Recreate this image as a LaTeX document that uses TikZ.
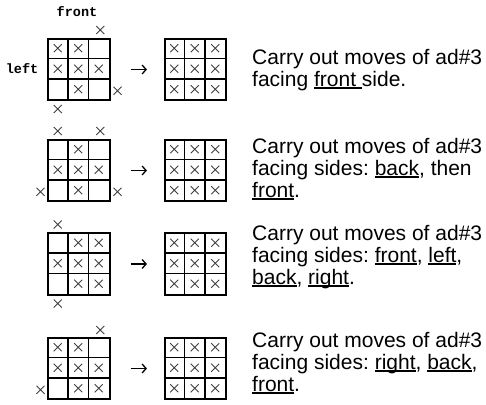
\documentclass[tikz,border=0pt]{standalone}
\usepackage{fontspec}
\setmainfont{Liberation Sans}
\newfontfamily\pixfont{Liberation Mono}
\usepackage{tikz}
\usetikzlibrary{arrows.meta,positioning,calc}
\newcommand{\sideul}[1]{\setbox0\hbox{#1}\rlap{\rule[-2.6pt]{\wd0}{1.3pt}}\box0}
\frenchspacing

\begin{document}
\begin{tikzpicture}[
  x=1pt, y=-1pt,
  board/.style={draw, line width=1.6pt, minimum size=61.5pt, inner sep=0pt},
  sidelabel/.style={font=\pixfont\bfseries\fontsize{13.5}{13.5}\selectfont, inner sep=0pt},
  note/.style={font=\fontsize{21}{22}\selectfont, align=left, anchor=base west, inner sep=0pt},
  movearrow/.style={-{Straight Barb[length=4pt,width=9pt]}, line width=1.3pt, shorten <=20pt, shorten >=17pt},
  xmark/.pic={\draw[line width=0.9pt, black!75] (-4pt,-4pt) -- (4pt,4pt) (-4pt,4pt) -- (4pt,-4pt);}
]
\useasboundingbox (0,0) rectangle (486,404);

% boards before and after
\node[board] (g1) at (79,69.5) {};
\node[board] (f1) at (195.5,69.5) {};
\node[board] (g2) at (79,170.5) {};
\node[board] (f2) at (195.5,170.5) {};
\node[board] (g3) at (79,264) {};
\node[board] (f3) at (195.5,264) {};
\node[board] (g4) at (79,368.5) {};
\node[board] (f4) at (195.5,368.5) {};

% inner grid lines
\foreach \b in {g1,f1,g2,f2,g3,f3,g4,f4}{
  \foreach \k in {1,2}{
    \draw[line width=1.6pt] ($(\b.north west)+(\k*20.5pt,0)$) -- ($(\b.south west)+(\k*20.5pt,0)$);
    \draw[line width=1.6pt] ($(\b.north west)+(0,-\k*20.5pt)$) -- ($(\b.north east)+(0,-\k*20.5pt)$);
  }
}

% marked cells (column/row)
\foreach \c/\r in {1/1,2/1,1/2,2/2,3/2,2/3}
  \pic at ($(g1.north west)+(\c*20.5pt-10.25pt,-\r*20.5pt+10.25pt)$) {xmark};
\foreach \c/\r in {2/1,1/2,2/2,3/2,2/3}
  \pic at ($(g2.north west)+(\c*20.5pt-10.25pt,-\r*20.5pt+10.25pt)$) {xmark};
\foreach \c/\r in {2/1,3/1,1/2,2/2,3/2,2/3,3/3}
  \pic at ($(g3.north west)+(\c*20.5pt-10.25pt,-\r*20.5pt+10.25pt)$) {xmark};
\foreach \c/\r in {1/1,2/1,1/2,2/2,3/2,2/3,3/3}
  \pic at ($(g4.north west)+(\c*20.5pt-10.25pt,-\r*20.5pt+10.25pt)$) {xmark};
\foreach \b in {f1,f2,f3,f4}
  \foreach \c in {1,2,3}
    \foreach \r in {1,2,3}
      \pic at ($(\b.north west)+(\c*20.5pt-10.25pt,-\r*20.5pt+10.25pt)$) {xmark};

% marks outside the boards
\pic at ($(g1.north east)+(-10.25pt,8pt)$) {xmark};
\pic at ($(g1.south east)+(7pt,10.25pt)$) {xmark};
\pic at ($(g1.south west)+(10.25pt,-8pt)$) {xmark};
\pic at ($(g2.north west)+(10.25pt,8pt)$) {xmark};
\pic at ($(g2.north east)+(-10.25pt,8pt)$) {xmark};
\pic at ($(g2.south west)+(-7pt,10.25pt)$) {xmark};
\pic at ($(g2.south east)+(7pt,10.25pt)$) {xmark};
\pic at ($(g3.north west)+(10.25pt,8pt)$) {xmark};
\pic at ($(g3.south west)+(10.25pt,-8pt)$) {xmark};
\pic at ($(g4.north east)+(-10.25pt,7pt)$) {xmark};
\pic at ($(g4.south west)+(-7pt,10.25pt)$) {xmark};

% side labels
\node[sidelabel, anchor=base] (front) at ($(g1.north)+(-2pt,21pt)$) {front};
\node[sidelabel, anchor=east] (left) at ($(g1.west)+(-9pt,1pt)$) {left};

% arrows
\draw[movearrow] (g1) -- (f1);
\draw[movearrow] (g2) -- (f2);
\draw[movearrow] (g3) -- (f3);
\draw[movearrow] (g4) -- (f4);

% notes (anchored on the last line)
\node[note] (n1) at (252,86) {Carry out moves of ad\#3\\facing \sideul{front\ }side.};
\node[note] (n2) at (252,197) {Carry out moves of ad\#3\\facing sides: \sideul{back}, then\\\sideul{front}.};
\node[note] (n3) at (252,284) {Carry out moves of ad\#3\\facing sides: \sideul{front}, \sideul{left},\\\sideul{back}, \sideul{right}.};
\node[note] (n4) at (252,391) {Carry out moves of ad\#3\\facing sides: \sideul{right}, \sideul{back},\\\sideul{front}.};
\end{tikzpicture}
\end{document}
